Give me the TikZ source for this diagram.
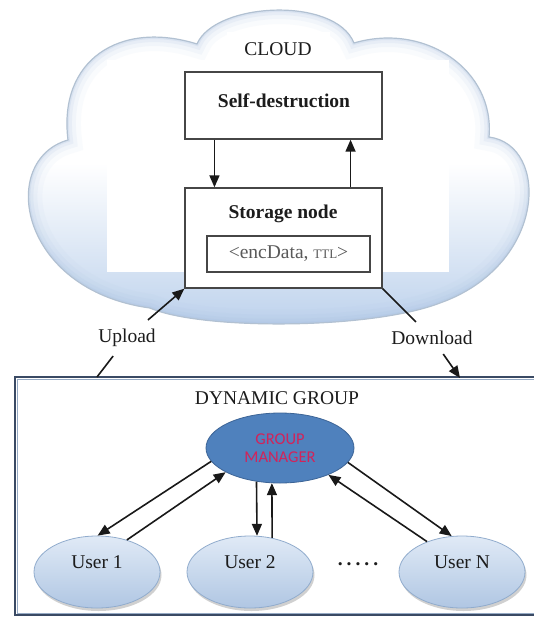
\documentclass[tikz,border=0pt]{standalone}
\usepackage{fontspec}
\setmainfont{Liberation Serif}
\newfontfamily\gmfont{Carlito}
\usetikzlibrary{shapes.geometric,arrows.meta,calc,shadows}
\definecolor{txt}{RGB}{28,28,28}
\definecolor{boxline}{RGB}{70,70,70}
\definecolor{cloudline}{RGB}{178,193,210}
\definecolor{cloudedge}{RGB}{165,190,222}
\definecolor{cloudbot}{RGB}{188,209,236}
\definecolor{gmfill}{RGB}{79,129,189}
\definecolor{gmline}{RGB}{60,100,150}
\definecolor{gmtext}{RGB}{210,35,90}
\definecolor{utop}{RGB}{224,234,246}
\definecolor{ubot}{RGB}{176,198,227}
\definecolor{uline}{RGB}{145,172,205}
\definecolor{grpdark}{RGB}{58,74,100}
\definecolor{grplight}{RGB}{150,170,196}
\begin{document}
\begin{tikzpicture}[x=1pt,y=-1pt,
  font=\fontsize{19.5}{23}\selectfont, text=txt,
  box/.style={draw=boxline, line width=1.4pt, fill=white, inner sep=0pt},
  lbl/.style={inner xsep=3pt, inner ysep=9pt},
  arr/.style={-{Triangle[length=12pt,width=10pt]}, line width=1.6pt, draw=black!90},
  conn/.style={line width=1.6pt, draw=black!90},
  gm/.style={ellipse, minimum width=148pt, minimum height=70pt, fill=gmfill, draw=gmline, line width=0.8pt,
    text=gmtext, align=center, font=\gmfont\fontsize{16.5}{17.5}\selectfont},
  user/.style={ellipse, minimum width=126pt, minimum height=72pt, draw=uline, line width=0.8pt,
    top color=utop, bottom color=ubot, text height=13pt, text depth=20pt,
    drop shadow={shadow xshift=1.5pt, shadow yshift=-3pt, opacity=0.3, fill=black!60}}
]
\useasboundingbox (0,0) rectangle (534,618);
\fill[white] (0,0) rectangle (534,618);

% cloud
\shade[top color=white, bottom color=cloudbot, middle color=white]
  (68,140) .. controls (58,60) and (120,20) .. (197,44) .. controls (215,2) and (335,-4) .. (354,43)
  .. controls (425,22) and (495,70) .. (489,137) .. controls (550,145) and (547,265) .. (440,303)
  .. controls (370,330) and (200,330) .. (150,308) .. controls (18,290) and (-2,160) .. (68,140) -- cycle;
\begin{scope}
\clip (68,140) .. controls (58,60) and (120,20) .. (197,44) .. controls (215,2) and (335,-4) .. (354,43)
  .. controls (425,22) and (495,70) .. (489,137) .. controls (550,145) and (547,265) .. (440,303)
  .. controls (370,330) and (200,330) .. (150,308) .. controls (18,290) and (-2,160) .. (68,140) -- cycle;
\foreach \w/\o in {28/0.06, 18/0.09, 10/0.13, 4/0.2}{
\draw[cloudedge, line width=\w pt, opacity=\o]
  (68,140) .. controls (58,60) and (120,20) .. (197,44) .. controls (215,2) and (335,-4) .. (354,43)
  .. controls (425,22) and (495,70) .. (489,137) .. controls (550,145) and (547,265) .. (440,303)
  .. controls (370,330) and (200,330) .. (150,308) .. controls (18,290) and (-2,160) .. (68,140) -- cycle;
}
\fill[white] (107,60) rectangle (449,272);
\fill[white] (227,32) rectangle (330,60);
\end{scope}
\draw[cloudline, line width=1.2pt]
  (68,140) .. controls (58,60) and (120,20) .. (197,44) .. controls (215,2) and (335,-4) .. (354,43)
  .. controls (425,22) and (495,70) .. (489,137) .. controls (550,145) and (547,265) .. (440,303)
  .. controls (370,330) and (200,330) .. (150,308) .. controls (18,290) and (-2,160) .. (68,140) -- cycle;

\node (cloudtxt) at (278,49) {CLOUD};
\node[box, minimum width=197pt, minimum height=67pt] (sd) at (283.5,105.5) {};
\node (sdtxt) at (284,101) {\bfseries Self-destruction};
\node[box, minimum width=197pt, minimum height=100pt] (st) at (283.5,238) {};
\node (sttxt) at (283,214) {\bfseries Storage node};
\node[box, minimum width=163pt, minimum height=36pt, text=black!65] (enc) at (288.5,254)
  {<encData, {\fontsize{13}{15}\selectfont TTL}>};

\draw[arr] ($(sd.south west)!0.152!(sd.south east)$) -- ($(st.north west)!0.152!(st.north east)$);
\draw[arr] ($(st.north west)!0.838!(st.north east)$) -- ($(sd.south west)!0.838!(sd.south east)$);

% group box
\coordinate (gtl) at (15,377);
\coordinate (gbr) at (560,615);
\draw[grpdark, line width=2.4pt] (gtl) rectangle (gbr);
\draw[grplight, line width=0.9pt] ($(gtl)+(2,2)$) rectangle ($(gbr)+(-2,-2)$);

\coordinate (upfoot) at (97,377);
\coordinate (dnfoot) at (460,378);
\node[lbl] (up) at (127,338) {Upload};
\node[lbl] (dn) at (432,338) {Download};
\draw[conn] (upfoot) -- (up);
\draw[arr] (up) -- (st.south west);
\draw[conn] (st.south east) -- (dn);
\draw[arr] (dn) -- (dnfoot);

\node (dgtxt) at (277,398) {DYNAMIC GROUP};
\node[gm] (gm) at (280,448) {GROUP\\MANAGER};
\node[user] (u1) at (97,572) {User 1};
\node[user] (u2) at (250,572) {User 2};
\node[user] (un) at (462,572) {User N};
\node (dots) at (358,564) {\bfseries .\kern4pt.\kern4pt.\kern4pt.\kern4pt.};

\draw[arr] (gm.191) -- (u1.89);
\draw[arr] (u1.47) -- (gm.204);
\draw[arr] (gm.235) -- (u2.79);
\draw[arr] (u2.57) -- (gm.257);
\draw[arr] (gm.348) -- (un.106);
\draw[arr] (un.139) -- (gm.331);
\end{tikzpicture}
\end{document}
